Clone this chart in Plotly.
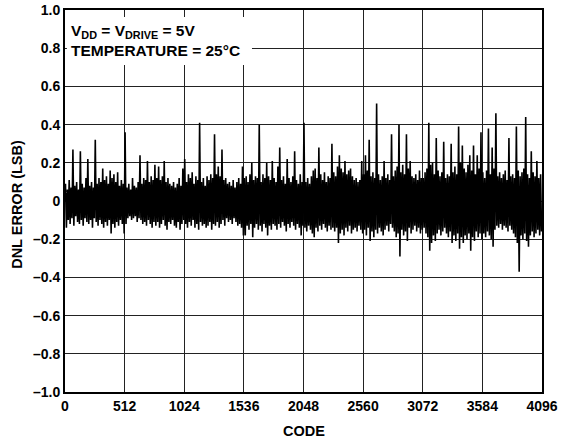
import plotly.graph_objects as go

# DNL error per 16-code bin: highest and lowest value
BIN_SIZE = 16
dnl_high = [
    0.09, 0.06, 0.11, 0.07, 0.27, 0.08, 0.10, 0.06, 0.26, 0.09, 0.07, 0.12, 0.22, 0.08, 0.10, 0.07,
    0.32, 0.09, 0.12, 0.10, 0.17, 0.11, 0.13, 0.09, 0.16, 0.12, 0.14, 0.10, 0.15, 0.08, 0.11, 0.09,
    0.36, 0.07, 0.09, 0.06, 0.12, 0.08, 0.07, 0.10, 0.24, 0.09, 0.12, 0.11, 0.21, 0.10, 0.13, 0.11,
    0.19, 0.12, 0.18, 0.11, 0.13, 0.21, 0.10, 0.12, 0.09, 0.08, 0.10, 0.07, 0.09, 0.12, 0.08, 0.17,
    0.22, 0.10, 0.14, 0.12, 0.15, 0.09, 0.13, 0.11, 0.41, 0.10, 0.12, 0.08, 0.13, 0.11, 0.14, 0.12,
    0.35, 0.14, 0.18, 0.13, 0.27, 0.11, 0.12, 0.09, 0.10, 0.08, 0.11, 0.07, 0.10, 0.12, 0.09, 0.18,
    0.12, 0.13, 0.10, 0.14, 0.20, 0.11, 0.13, 0.12, 0.40, 0.10, 0.14, 0.12, 0.20, 0.13, 0.11, 0.21,
    0.12, 0.10, 0.18, 0.28, 0.11, 0.13, 0.09, 0.22, 0.12, 0.10, 0.13, 0.26, 0.11, 0.09, 0.14, 0.10,
    0.41, 0.10, 0.12, 0.09, 0.13, 0.16, 0.17, 0.12, 0.28, 0.14, 0.11, 0.15, 0.10, 0.13, 0.12, 0.30,
    0.15, 0.13, 0.18, 0.24, 0.17, 0.15, 0.21, 0.14, 0.16, 0.17, 0.13, 0.11, 0.12, 0.10, 0.11, 0.21,
    0.14, 0.24, 0.16, 0.32, 0.13, 0.15, 0.12, 0.51, 0.14, 0.11, 0.13, 0.21, 0.12, 0.14, 0.11, 0.35,
    0.13, 0.16, 0.18, 0.40, 0.15, 0.19, 0.14, 0.35, 0.17, 0.21, 0.13, 0.12, 0.14, 0.11, 0.16, 0.12,
    0.12, 0.15, 0.17, 0.41, 0.19, 0.20, 0.14, 0.33, 0.16, 0.13, 0.15, 0.31, 0.12, 0.14, 0.13, 0.30,
    0.15, 0.18, 0.14, 0.39, 0.20, 0.29, 0.17, 0.15, 0.19, 0.24, 0.16, 0.29, 0.14, 0.24, 0.17, 0.36,
    0.15, 0.12, 0.16, 0.38, 0.14, 0.28, 0.17, 0.46, 0.13, 0.15, 0.12, 0.14, 0.16, 0.11, 0.33, 0.13,
    0.14, 0.12, 0.39, 0.16, 0.13, 0.15, 0.17, 0.44, 0.14, 0.12, 0.26, 0.15, 0.13, 0.21, 0.12, 0.14,
]
dnl_low = [
    -0.14, -0.10, -0.12, -0.09, -0.13, -0.08, -0.11, -0.12, -0.10, -0.13, -0.09, -0.11, -0.12, -0.10, -0.14, -0.09,
    -0.11, -0.13, -0.10, -0.12, -0.14, -0.11, -0.13, -0.10, -0.17, -0.12, -0.14, -0.11, -0.13, -0.10, -0.12, -0.17,
    -0.12, -0.09, -0.08, -0.10, -0.09, -0.08, -0.11, -0.09, -0.10, -0.12, -0.11, -0.13, -0.10, -0.12, -0.14, -0.11,
    -0.13, -0.11, -0.14, -0.12, -0.10, -0.13, -0.15, -0.11, -0.12, -0.10, -0.13, -0.14, -0.11, -0.15, -0.12, -0.10,
    -0.12, -0.14, -0.11, -0.13, -0.10, -0.14, -0.12, -0.15, -0.11, -0.13, -0.12, -0.14, -0.13, -0.11, -0.15, -0.12,
    -0.13, -0.11, -0.14, -0.12, -0.10, -0.13, -0.09, -0.11, -0.10, -0.12, -0.09, -0.11, -0.13, -0.12, -0.14, -0.18,
    -0.18, -0.13, -0.15, -0.12, -0.19, -0.14, -0.12, -0.15, -0.13, -0.16, -0.12, -0.14, -0.18, -0.13, -0.15, -0.12,
    -0.13, -0.15, -0.12, -0.14, -0.11, -0.13, -0.16, -0.12, -0.14, -0.11, -0.13, -0.15, -0.12, -0.14, -0.18, -0.13,
    -0.14, -0.16, -0.13, -0.15, -0.17, -0.19, -0.14, -0.16, -0.13, -0.15, -0.12, -0.14, -0.16, -0.13, -0.15, -0.14,
    -0.16, -0.14, -0.22, -0.17, -0.15, -0.18, -0.14, -0.16, -0.13, -0.17, -0.15, -0.14, -0.16, -0.13, -0.15, -0.17,
    -0.15, -0.18, -0.14, -0.21, -0.16, -0.19, -0.15, -0.17, -0.14, -0.16, -0.18, -0.15, -0.13, -0.16, -0.12, -0.14,
    -0.16, -0.19, -0.17, -0.29, -0.15, -0.18, -0.16, -0.21, -0.14, -0.17, -0.15, -0.13, -0.16, -0.14, -0.17, -0.15,
    -0.14, -0.17, -0.19, -0.26, -0.22, -0.18, -0.21, -0.17, -0.15, -0.18, -0.16, -0.14, -0.17, -0.19, -0.16, -0.22,
    -0.18, -0.21, -0.17, -0.25, -0.19, -0.22, -0.18, -0.20, -0.17, -0.26, -0.19, -0.21, -0.16, -0.19, -0.17, -0.20,
    -0.17, -0.19, -0.16, -0.18, -0.20, -0.24, -0.15, -0.13, -0.14, -0.12, -0.15, -0.13, -0.14, -0.16, -0.13, -0.15,
    -0.17, -0.19, -0.22, -0.37, -0.18, -0.20, -0.17, -0.21, -0.24, -0.18, -0.16, -0.19, -0.17, -0.15, -0.18, -0.16,
]

x_tick_vals = [0, 512, 1024, 1536, 2048, 2560, 3072, 3584, 4096]
x_tick_text = ["0", "512", "1024", "1536", "2048", "2560", "3072", "3584", "4096"]
y_tick_vals = [1.0, 0.8, 0.6, 0.4, 0.2, 0.0, -0.2, -0.4, -0.6, -0.8, -1.0]
y_tick_text = ["1.0", "0.8", "0.6", "0.4", "0.2", "0", "\u20130.2", "\u20130.4", "\u20130.6", "\u20130.8", "\u20131.0"]
x_title = "CODE"
y_title = "DNL ERROR (LSB)"

# Interleave the high and low of each bin so the line sweeps the band
codes, values = [], []
for i, (hi, lo) in enumerate(zip(dnl_high, dnl_low)):
    start = i * BIN_SIZE
    codes += [start + BIN_SIZE // 4, start + 3 * BIN_SIZE // 4]
    values += [hi, lo]

FONT = "Liberation Sans, Arial, Helvetica, sans-serif"
title_font = dict(family=FONT, size=14.5, color="black", weight="bold")

fig = go.Figure()
fig.add_trace(go.Scatter(
    x=codes, y=values, mode="lines",
    line=dict(color="black", width=1.6),
    hoverinfo="skip", showlegend=False,
))

axis_common = dict(
    showgrid=True, gridcolor="#222222", gridwidth=1.2,
    showline=True, linecolor="black", linewidth=2, mirror=True,
    zeroline=False, ticks="", automargin=False,
    tickfont=dict(family=FONT, size=14, color="black", weight="bold"),
)

fig.update_xaxes(range=[0, 4096], tickvals=x_tick_vals, ticktext=x_tick_text, **axis_common)
fig.update_yaxes(range=[-1.0, 1.0], tickvals=y_tick_vals, ticktext=y_tick_text, **axis_common)

# Axis titles
fig.add_annotation(
    xref="paper", yref="paper", x=0.5, y=-0.102,
    xanchor="center", yanchor="middle", showarrow=False,
    text=x_title, font=title_font,
)
fig.add_annotation(
    xref="paper", yref="paper", x=-0.1006, y=0.49,
    xanchor="center", yanchor="middle", showarrow=False, textangle=-90,
    text=y_title, font=title_font,
)

# White box that hides the grid behind the conditions text
fig.add_shape(
    type="rect", xref="paper", yref="paper",
    x0=0.004, x1=0.392, y0=0.856, y1=0.982,
    fillcolor="white", line=dict(width=0), layer="above",
)
fig.add_annotation(
    xref="paper", yref="paper", x=0.008, y=0.975,
    xanchor="left", yanchor="top", align="left", showarrow=False,
    text="V<sub>DD</sub> = V<sub>DRIVE</sub> = 5V<br>TEMPERATURE = 25°C",
    font=dict(family=FONT, size=15.5, color="black", weight="bold"),
)

fig.update_layout(
    width=570, height=447,
    margin=dict(l=65, r=28, t=10, b=55),
    paper_bgcolor="white", plot_bgcolor="white",
)

fig.write_html(
    "out.html",
    config={"displayModeBar": False},
    post_script="document.body.style.margin='0';document.body.style.padding='0';",
)
